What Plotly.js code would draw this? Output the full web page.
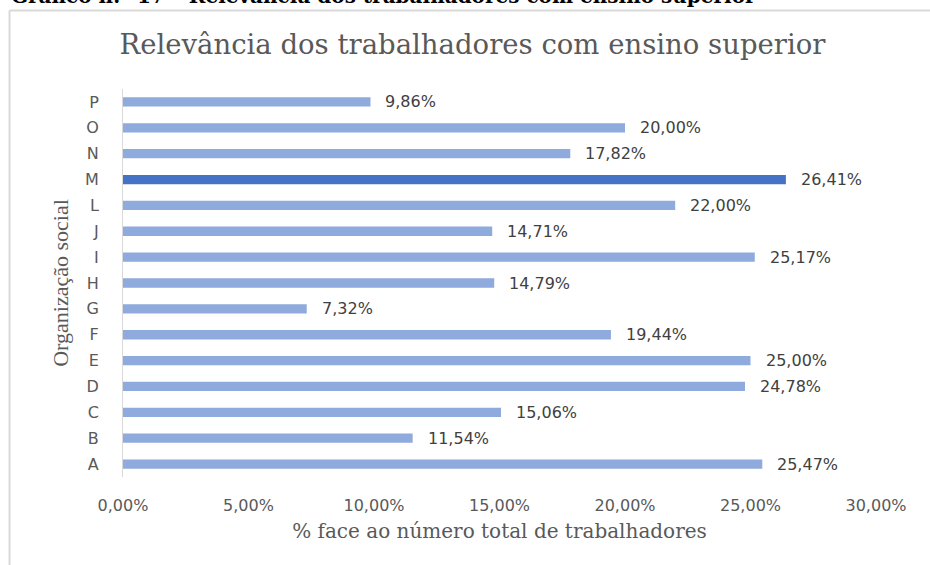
<!DOCTYPE html>
<html>
<head>
<meta charset="utf-8">
<script src="https://cdn.plot.ly/plotly-3.0.1.min.js"></script>
<style>html,body{margin:0;padding:0;background:#fff;}#chart{width:930px;height:565px;}</style>
</head>
<body>
<div id="chart"></div>
<script>
const categories = ["A","B","C","D","E","F","G","H","I","J","L","M","N","O","P"];
const values = [25.47, 11.54, 15.06, 24.78, 25.00, 19.44, 7.32, 14.79, 25.17, 14.71, 22.00, 26.41, 17.82, 20.00, 9.86];
const highlight = "M";
const xTickVals = [0, 5, 10, 15, 20, 25, 30];
const xTickText = ["0,00%","5,00%","10,00%","15,00%","20,00%","25,00%","30,00%"];
const chartTitle = "Relevância dos trabalhadores com ensino superior";
const heading = "Gráfico n.º 17 – Relevância dos trabalhadores com ensino superior";
const xTitle = "% face ao número total de trabalhadores";
const yTitle = "Organização social";

const fmt = v => v.toFixed(2).replace(".", ",") + "%";
const colors = categories.map(c => c === highlight ? "#4472C4" : "#8FAADC");
const sans = "DejaVu Sans, sans-serif";
const serif = "DejaVu Serif, serif";

const trace = {
  type: "bar", orientation: "h",
  x: values, y: categories,
  marker: {color: colors},
  width: 0.36,
  hoverinfo: "skip"
};

const annotations = categories.map((c, i) => ({
  x: values[i], y: c, xref: "x", yref: "y",
  text: fmt(values[i]), showarrow: false,
  xanchor: "left", yanchor: "middle", xshift: 13,
  font: {family: sans, size: 16, color: "#404040"}
}));
annotations.push({
  x: -0.152, y: 1.203, xref: "paper", yref: "paper",
  text: "<b>" + heading + "</b>", showarrow: false,
  xanchor: "left", yanchor: "bottom",
  font: {family: serif, size: 20, color: "#000"}
});

const layout = {
  width: 930, height: 565,
  margin: {l: 123, r: 54, t: 89, b: 88},
  paper_bgcolor: "#fff", plot_bgcolor: "#fff",
  showlegend: false,
  title: {text: chartTitle, x: 0.508, xanchor: "center", y: 0.922, yanchor: "middle",
    font: {family: serif, size: 27.5, color: "#595959"}},
  xaxis: {
    range: [0, 30], tickvals: xTickVals, ticktext: xTickText,
    showgrid: false, zeroline: false, showline: false, ticks: "",
    ticklabelstandoff: 17,
    tickfont: {family: sans, size: 16, color: "#595959"},
    title: {text: xTitle, standoff: 9, font: {family: serif, size: 20, color: "#595959"}}
  },
  yaxis: {
    type: "category", categoryorder: "array", categoryarray: categories,
    showgrid: false, zeroline: false, showline: true, linecolor: "#d9d9d9", linewidth: 1,
    ticks: "", ticklabelstandoff: 20,
    tickfont: {family: sans, size: 16, color: "#595959"},
    title: {text: yTitle, standoff: 10, font: {family: "Liberation Serif, serif", size: 22, color: "#595959"}}
  },
  annotations: annotations,
  shapes: [
    {type: "line", xref: "paper", yref: "paper", x0: -0.1507, x1: -0.1507, y0: 1.2023, y1: -0.3,
      line: {color: "#d9d9d9", width: 2}},
    {type: "line", xref: "paper", yref: "paper", x0: -0.1507, x1: 1.1, y0: 1.2023, y1: 1.2023,
      line: {color: "#d9d9d9", width: 2}}
  ]
};

Plotly.newPlot("chart", [trace], layout, {displayModeBar: false, staticPlot: true});
</script>
</body>
</html>
